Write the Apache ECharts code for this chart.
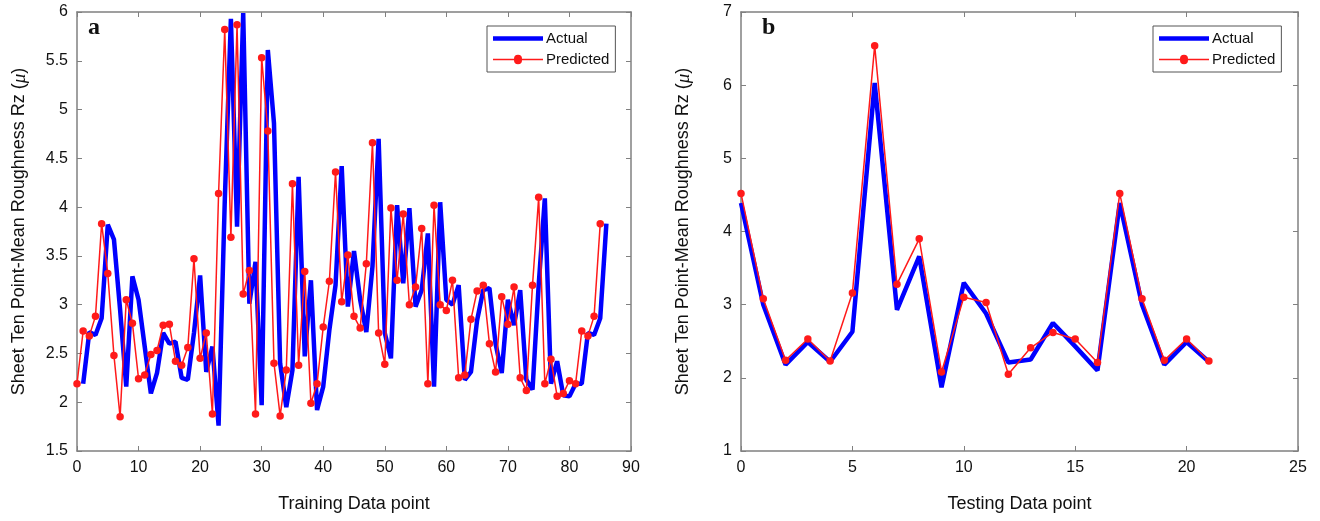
<!DOCTYPE html>
<html>
<head>
<meta charset="utf-8">
<script src="https://cdn.jsdelivr.net/npm/echarts@6/dist/echarts.min.js"></script>
<style>
  html, body { margin: 0; padding: 0; background: #fff; }
  #chart { width: 1320px; height: 521px; }
</style>
</head>
<body>
<div id="chart"></div>
<script>
// Training set: predicted values start at point 0, measured values at point 1
const trainPredictedStart = 0;
const trainPredicted = [
  2.19, 2.73, 2.68, 2.88, 3.83, 3.32, 2.48, 1.85, 3.05, 2.81,
  2.24, 2.28, 2.49, 2.53, 2.79, 2.80, 2.42, 2.38, 2.56, 3.47,
  2.45, 2.71, 1.88, 4.14, 5.82, 3.69, 5.87, 3.11, 3.35, 1.88,
  5.53, 4.78, 2.40, 1.86, 2.33, 4.24, 2.38, 3.34, 1.99, 2.19,
  2.77, 3.24, 4.36, 3.03, 3.51, 2.88, 2.76, 3.42, 4.66, 2.71,
  2.39, 3.99, 3.25, 3.93, 3.00, 3.18, 3.78, 2.19, 4.02, 3.00,
  2.94, 3.25, 2.25, 2.28, 2.85, 3.14, 3.20, 2.60, 2.31, 3.08,
  2.80, 3.18, 2.25, 2.12, 3.20, 4.10, 2.19, 2.44, 2.06, 2.09,
  2.22, 2.19, 2.73, 2.68, 2.88, 3.83
];
const trainActualStart = 1;
const trainActual = [
  2.19, 2.72, 2.69, 2.86, 3.82, 3.67, 2.95, 2.16, 3.29, 3.05,
  2.57, 2.09, 2.30, 2.71, 2.60, 2.62, 2.25, 2.23, 2.71, 3.30,
  2.31, 2.57, 1.76, 4.05, 5.93, 3.80, 5.99, 3.01, 3.44, 1.97,
  5.61, 4.86, 2.40, 1.95, 2.33, 4.31, 2.47, 3.25, 1.92, 2.16,
  2.74, 3.20, 4.42, 2.98, 3.55, 3.05, 2.72, 3.39, 4.70, 2.71,
  2.45, 4.02, 3.22, 3.99, 2.98, 3.15, 3.73, 2.16, 4.05, 3.05,
  3.00, 3.20, 2.23, 2.31, 2.84, 3.15, 3.17, 2.60, 2.30, 3.05,
  2.79, 3.15, 2.23, 2.13, 3.20, 4.09, 2.19, 2.42, 2.07, 2.06,
  2.19, 2.19, 2.71, 2.69, 2.86, 3.83
];

// Testing set: both series start at point 0
const testActual = [
  4.39, 3.00, 2.18, 2.49, 2.22, 2.63, 6.03, 2.93, 3.66, 1.87,
  3.30, 2.88, 2.21, 2.25, 2.75, 2.43, 2.10, 4.39, 3.00, 2.18,
  2.49, 2.22
];
const testPredicted = [
  4.52, 3.08, 2.24, 2.53, 2.23, 3.16, 6.54, 3.28, 3.90, 2.08,
  3.10, 3.03, 2.05, 2.41, 2.62, 2.53, 2.21, 4.52, 3.08, 2.24,
  2.53, 2.23
];

const seriesNames = ['Actual', 'Predicted'];
const panelLabels = ['a', 'b'];
const xTitles = ['Training Data point', 'Testing Data point'];
const yTitle = 'Sheet Ten Point-Mean Roughness Rz (';
const yTitleSymbol = 'μ';

function pairs(values, start) {
  return values.map((v, i) => [start + i, v]);
}

const FONT = '"Liberation Sans", Arial, sans-serif';
const AXIS_GREY = '#808080';
const BLUE = '#0000ff';
const RED = '#ff1a1a';

function mainX(gridIndex, max, interval, title) {
  return {
    type: 'value', gridIndex, min: 0, max, interval,
    position: 'bottom',
    name: title, nameLocation: 'middle', nameGap: 44,
    nameTextStyle: { fontFamily: FONT, fontSize: 18, color: '#111' },
    axisLine: { show: true, onZero: false, lineStyle: { color: AXIS_GREY, width: 1.5 } },
    axisTick: { show: true, inside: true, length: 5, lineStyle: { color: AXIS_GREY, width: 1 } },
    axisLabel: { fontFamily: FONT, fontSize: 16, color: '#111', margin: 9 },
    splitLine: { show: false }
  };
}
function mirrorX(gridIndex, max, interval) {
  return {
    type: 'value', gridIndex, min: 0, max, interval, position: 'top',
    axisLine: { show: true, onZero: false, lineStyle: { color: AXIS_GREY, width: 1.5 } },
    axisTick: { show: true, inside: true, length: 5, lineStyle: { color: AXIS_GREY, width: 1 } },
    axisLabel: { show: false }, splitLine: { show: false }
  };
}
function mainY(gridIndex, min, max, interval) {
  return {
    type: 'value', gridIndex, min, max, interval, position: 'left',
    name: '{t|' + yTitle + '}{m|' + yTitleSymbol + '}{t|)}',
    nameLocation: 'middle', nameGap: 48, nameRotate: 90,
    nameTextStyle: {
      rich: {
        t: { fontFamily: FONT, fontSize: 18, color: '#111' },
        m: { fontFamily: '"Liberation Serif", serif', fontStyle: 'italic', fontSize: 19, color: '#111' }
      }
    },
    axisLine: { show: true, onZero: false, lineStyle: { color: AXIS_GREY, width: 1.5 } },
    axisTick: { show: true, inside: true, length: 5, lineStyle: { color: AXIS_GREY, width: 1 } },
    axisLabel: { fontFamily: FONT, fontSize: 16, color: '#111', margin: 9 },
    splitLine: { show: false }
  };
}
function mirrorY(gridIndex, min, max, interval) {
  return {
    type: 'value', gridIndex, min, max, interval, position: 'right',
    axisLine: { show: true, onZero: false, lineStyle: { color: AXIS_GREY, width: 1.5 } },
    axisTick: { show: true, inside: true, length: 5, lineStyle: { color: AXIS_GREY, width: 1 } },
    axisLabel: { show: false }, splitLine: { show: false }
  };
}

function actualSeries(axisIndex, data) {
  return {
    name: seriesNames[0], type: 'line', xAxisIndex: axisIndex, yAxisIndex: axisIndex,
    data, symbol: 'none', showSymbol: false,
    lineStyle: { color: BLUE, width: 4.5 }, itemStyle: { color: BLUE },
    z: 2
  };
}
function predictedSeries(axisIndex, data) {
  return {
    name: seriesNames[1], type: 'line', xAxisIndex: axisIndex, yAxisIndex: axisIndex,
    data, symbol: 'circle', symbolSize: 7.5,
    lineStyle: { color: RED, width: 1.5 }, itemStyle: { color: RED },
    z: 3
  };
}

// Legend keys: a thick bar for the measured line, a thin line with a dot for the prediction
const ACTUAL_KEY = 'path://M0,0h50v4.5h-50z';
const PREDICTED_KEY = 'path://M0,4.25h21a4,4 0 0 1 8,0h21v1.5h-21a4,4 0 0 1 -8,0h-21z';

function legendAt(left) {
  return {
    data: [
      { name: seriesNames[0], icon: ACTUAL_KEY },
      { name: seriesNames[1], icon: PREDICTED_KEY }
    ],
    orient: 'vertical', left, top: 26,
    itemWidth: 50, itemHeight: 14, itemGap: 6, padding: [5, 6],
    symbolKeepAspect: true,
    backgroundColor: '#fff', borderColor: '#555', borderWidth: 1,
    textStyle: { fontFamily: FONT, fontSize: 15, color: '#111', padding: [0, 0, 0, -2] },
    selectedMode: false
  };
}

const chart = echarts.init(document.getElementById('chart'), null, { renderer: 'canvas' });
chart.setOption({
  animation: false,
  backgroundColor: '#fff',
  title: [
    { text: panelLabels[0], left: 83, top: 11,
      textStyle: { fontFamily: '"Liberation Serif", "DejaVu Serif", serif', fontWeight: 'bold', fontSize: 24, color: '#111' } },
    { text: panelLabels[1], left: 757, top: 11,
      textStyle: { fontFamily: '"Liberation Serif", "DejaVu Serif", serif', fontWeight: 'bold', fontSize: 24, color: '#111' } }
  ],
  legend: [legendAt(487), legendAt(1153)],
  grid: [
    { left: 77, top: 12, width: 554, height: 439 },
    { left: 741, top: 12, width: 557, height: 439 }
  ],
  xAxis: [
    mainX(0, 90, 10, xTitles[0]),
    mainX(1, 25, 5, xTitles[1]),
    mirrorX(0, 90, 10),
    mirrorX(1, 25, 5)
  ],
  yAxis: [
    mainY(0, 1.5, 6, 0.5),
    mainY(1, 1, 7, 1),
    mirrorY(0, 1.5, 6, 0.5),
    mirrorY(1, 1, 7, 1)
  ],
  series: [
    actualSeries(0, pairs(trainActual, trainActualStart)),
    predictedSeries(0, pairs(trainPredicted, trainPredictedStart)),
    actualSeries(1, pairs(testActual, 0)),
    predictedSeries(1, pairs(testPredicted, 0))
  ]
});
</script>
</body>
</html>
